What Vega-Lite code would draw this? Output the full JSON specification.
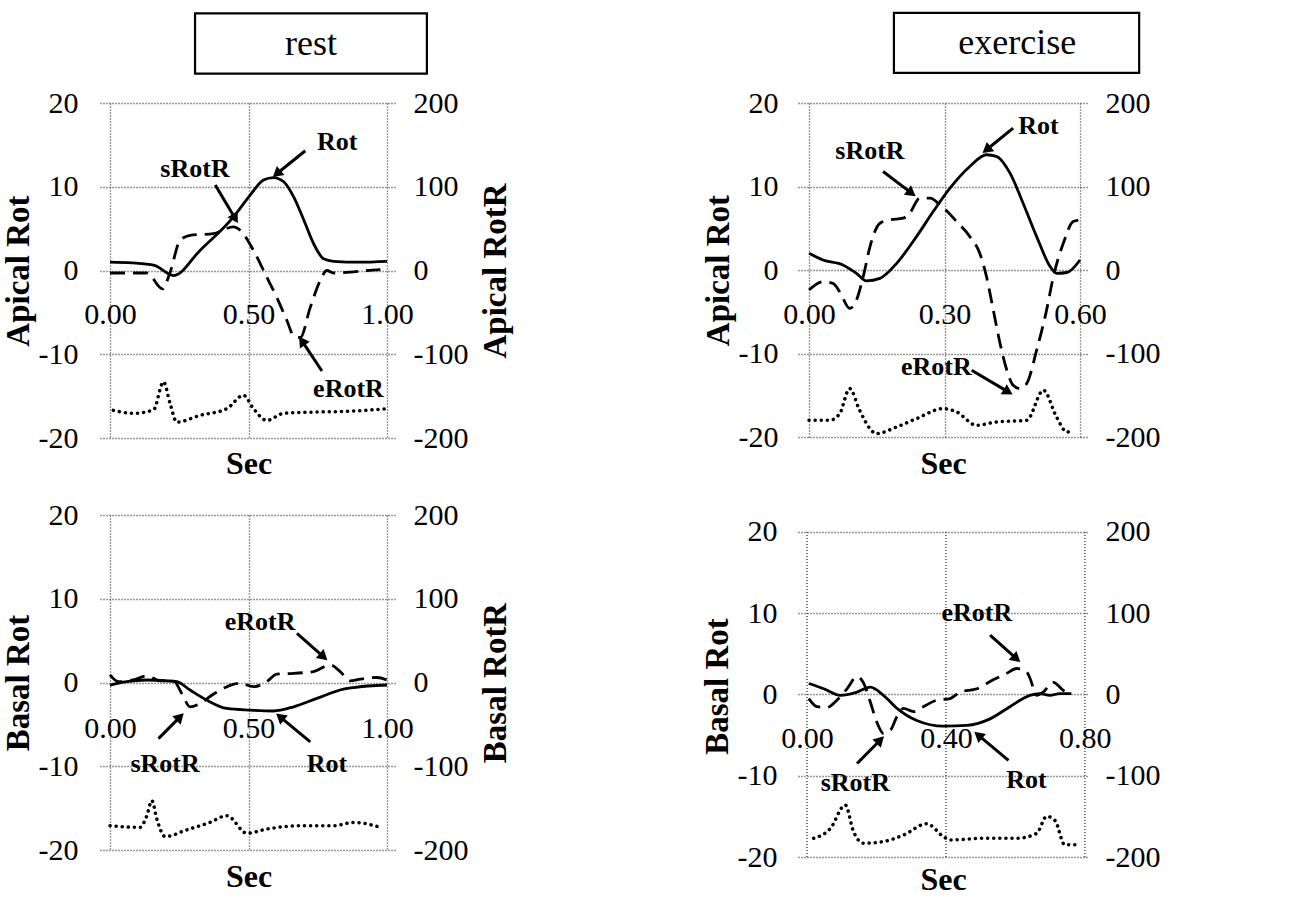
{
"$schema": "https://vega.github.io/schema/vega-lite/v6.json",
"autosize": {"type": "none"},
"padding": {"left": 100, "top": 103, "right": 1206, "bottom": 794},
"background": "white",
"datasets": {
"curves": [
{"p":"A","s":"Rot","t":0,"v":1.0},{"p":"A","s":"Rot","t":0.08,"v":0.9},{"p":"A","s":"Rot","t":0.16,"v":0.6},{"p":"A","s":"Rot","t":0.23,"v":-0.6},{"p":"A","s":"Rot","t":0.325,"v":2.4},{"p":"A","s":"Rot","t":0.446,"v":6.4},{"p":"A","s":"Rot","t":0.506,"v":9.0},{"p":"A","s":"Rot","t":0.554,"v":10.8},{"p":"A","s":"Rot","t":0.59,"v":11.1},{"p":"A","s":"Rot","t":0.627,"v":10.6},{"p":"A","s":"Rot","t":0.663,"v":8.8},{"p":"A","s":"Rot","t":0.70,"v":6.0},{"p":"A","s":"Rot","t":0.735,"v":3.2},{"p":"A","s":"Rot","t":0.771,"v":1.4},{"p":"A","s":"Rot","t":0.807,"v":1.1},{"p":"A","s":"Rot","t":0.9,"v":1.0},{"p":"A","s":"Rot","t":1.0,"v":1.1},
{"p":"A","s":"RotR","t":0,"v":-3},{"p":"A","s":"RotR","t":0.133,"v":-3},{"p":"A","s":"RotR","t":0.19,"v":-22},{"p":"A","s":"RotR","t":0.217,"v":-2},{"p":"A","s":"RotR","t":0.253,"v":36},{"p":"A","s":"RotR","t":0.289,"v":42},{"p":"A","s":"RotR","t":0.373,"v":44},{"p":"A","s":"RotR","t":0.446,"v":52},{"p":"A","s":"RotR","t":0.47,"v":48},{"p":"A","s":"RotR","t":0.518,"v":24},{"p":"A","s":"RotR","t":0.566,"v":-8},{"p":"A","s":"RotR","t":0.602,"v":-32},{"p":"A","s":"RotR","t":0.639,"v":-60},{"p":"A","s":"RotR","t":0.663,"v":-78},{"p":"A","s":"RotR","t":0.687,"v":-80},{"p":"A","s":"RotR","t":0.723,"v":-44},{"p":"A","s":"RotR","t":0.759,"v":-12},{"p":"A","s":"RotR","t":0.783,"v":0},{"p":"A","s":"RotR","t":0.807,"v":-3},{"p":"A","s":"RotR","t":0.867,"v":-2},{"p":"A","s":"RotR","t":0.928,"v":0},{"p":"A","s":"RotR","t":0.976,"v":1},
{"p":"A","s":"ECG","t":0.012,"v":-16.7},{"p":"A","s":"ECG","t":0.084,"v":-17.05},{"p":"A","s":"ECG","t":0.157,"v":-16.65},{"p":"A","s":"ECG","t":0.193,"v":-13.3},{"p":"A","s":"ECG","t":0.217,"v":-15.9},{"p":"A","s":"ECG","t":0.241,"v":-18.1},{"p":"A","s":"ECG","t":0.325,"v":-17.3},{"p":"A","s":"ECG","t":0.422,"v":-16.5},{"p":"A","s":"ECG","t":0.482,"v":-14.9},{"p":"A","s":"ECG","t":0.518,"v":-16.5},{"p":"A","s":"ECG","t":0.566,"v":-17.9},{"p":"A","s":"ECG","t":0.627,"v":-17.05},{"p":"A","s":"ECG","t":0.747,"v":-16.9},{"p":"A","s":"ECG","t":0.867,"v":-16.8},{"p":"A","s":"ECG","t":1.0,"v":-16.5},
{"p":"B","s":"Rot","t":0,"v":2.0},{"p":"B","s":"Rot","t":0.031,"v":1.2},{"p":"B","s":"Rot","t":0.075,"v":0.6},{"p":"B","s":"Rot","t":0.105,"v":-0.4},{"p":"B","s":"Rot","t":0.127,"v":-1.3},{"p":"B","s":"Rot","t":0.157,"v":-1.0},{"p":"B","s":"Rot","t":0.194,"v":0.8},{"p":"B","s":"Rot","t":0.238,"v":4.0},{"p":"B","s":"Rot","t":0.275,"v":7.0},{"p":"B","s":"Rot","t":0.312,"v":9.8},{"p":"B","s":"Rot","t":0.356,"v":12.4},{"p":"B","s":"Rot","t":0.393,"v":13.8},{"p":"B","s":"Rot","t":0.415,"v":13.6},{"p":"B","s":"Rot","t":0.445,"v":11.6},{"p":"B","s":"Rot","t":0.474,"v":8.0},{"p":"B","s":"Rot","t":0.504,"v":4.0},{"p":"B","s":"Rot","t":0.534,"v":0.4},{"p":"B","s":"Rot","t":0.548,"v":-0.4},{"p":"B","s":"Rot","t":0.571,"v":-0.3},{"p":"B","s":"Rot","t":0.6,"v":1.2},
{"p":"B","s":"RotR","t":0,"v":-24},{"p":"B","s":"RotR","t":0.031,"v":-14},{"p":"B","s":"RotR","t":0.053,"v":-16},{"p":"B","s":"RotR","t":0.068,"v":-26},{"p":"B","s":"RotR","t":0.09,"v":-46},{"p":"B","s":"RotR","t":0.105,"v":-36},{"p":"B","s":"RotR","t":0.12,"v":-8},{"p":"B","s":"RotR","t":0.135,"v":28},{"p":"B","s":"RotR","t":0.157,"v":56},{"p":"B","s":"RotR","t":0.179,"v":60},{"p":"B","s":"RotR","t":0.208,"v":62},{"p":"B","s":"RotR","t":0.223,"v":68},{"p":"B","s":"RotR","t":0.245,"v":86},{"p":"B","s":"RotR","t":0.268,"v":86},{"p":"B","s":"RotR","t":0.29,"v":78},{"p":"B","s":"RotR","t":0.327,"v":58},{"p":"B","s":"RotR","t":0.356,"v":40},{"p":"B","s":"RotR","t":0.378,"v":20},{"p":"B","s":"RotR","t":0.393,"v":-8},{"p":"B","s":"RotR","t":0.408,"v":-48},{"p":"B","s":"RotR","t":0.423,"v":-88},{"p":"B","s":"RotR","t":0.438,"v":-120},{"p":"B","s":"RotR","t":0.452,"v":-138},{"p":"B","s":"RotR","t":0.467,"v":-142},{"p":"B","s":"RotR","t":0.482,"v":-136},{"p":"B","s":"RotR","t":0.504,"v":-96},{"p":"B","s":"RotR","t":0.526,"v":-48},{"p":"B","s":"RotR","t":0.541,"v":-8},{"p":"B","s":"RotR","t":0.563,"v":32},{"p":"B","s":"RotR","t":0.585,"v":58},{"p":"B","s":"RotR","t":0.6,"v":60},
{"p":"B","s":"ECG","t":0,"v":-18},{"p":"B","s":"ECG","t":0.046,"v":-18},{"p":"B","s":"ECG","t":0.068,"v":-17.2},{"p":"B","s":"ECG","t":0.09,"v":-14.2},{"p":"B","s":"ECG","t":0.112,"v":-16.8},{"p":"B","s":"ECG","t":0.135,"v":-19},{"p":"B","s":"ECG","t":0.149,"v":-19.6},{"p":"B","s":"ECG","t":0.194,"v":-18.8},{"p":"B","s":"ECG","t":0.238,"v":-17.8},{"p":"B","s":"ECG","t":0.297,"v":-16.6},{"p":"B","s":"ECG","t":0.327,"v":-17},{"p":"B","s":"ECG","t":0.371,"v":-18.6},{"p":"B","s":"ECG","t":0.415,"v":-18.2},{"p":"B","s":"ECG","t":0.482,"v":-18},{"p":"B","s":"ECG","t":0.519,"v":-14.4},{"p":"B","s":"ECG","t":0.548,"v":-17.6},{"p":"B","s":"ECG","t":0.571,"v":-19.4},{"p":"B","s":"ECG","t":0.585,"v":-19.2},
{"p":"C","s":"Rot","t":0,"v":-0.3},{"p":"C","s":"Rot","t":0.06,"v":0.1},{"p":"C","s":"Rot","t":0.133,"v":0.3},{"p":"C","s":"Rot","t":0.205,"v":0.2},{"p":"C","s":"Rot","t":0.241,"v":0.1},{"p":"C","s":"Rot","t":0.289,"v":-0.9},{"p":"C","s":"Rot","t":0.349,"v":-2.1},{"p":"C","s":"Rot","t":0.422,"v":-3.1},{"p":"C","s":"Rot","t":0.506,"v":-3.3},{"p":"C","s":"Rot","t":0.59,"v":-3.4},{"p":"C","s":"Rot","t":0.663,"v":-2.9},{"p":"C","s":"Rot","t":0.747,"v":-1.9},{"p":"C","s":"Rot","t":0.843,"v":-0.8},{"p":"C","s":"Rot","t":0.88,"v":-0.6},{"p":"C","s":"Rot","t":1.0,"v":-0.3},
{"p":"C","s":"RotR","t":0,"v":9},{"p":"C","s":"RotR","t":0.03,"v":1},{"p":"C","s":"RotR","t":0.084,"v":3},{"p":"C","s":"RotR","t":0.133,"v":8},{"p":"C","s":"RotR","t":0.18,"v":2},{"p":"C","s":"RotR","t":0.229,"v":2},{"p":"C","s":"RotR","t":0.259,"v":-13},{"p":"C","s":"RotR","t":0.289,"v":-29},{"p":"C","s":"RotR","t":0.325,"v":-25},{"p":"C","s":"RotR","t":0.373,"v":-14},{"p":"C","s":"RotR","t":0.422,"v":-5},{"p":"C","s":"RotR","t":0.47,"v":-1},{"p":"C","s":"RotR","t":0.518,"v":-5},{"p":"C","s":"RotR","t":0.566,"v":1},{"p":"C","s":"RotR","t":0.602,"v":10},{"p":"C","s":"RotR","t":0.663,"v":11},{"p":"C","s":"RotR","t":0.735,"v":13},{"p":"C","s":"RotR","t":0.795,"v":21},{"p":"C","s":"RotR","t":0.831,"v":13},{"p":"C","s":"RotR","t":0.867,"v":2},{"p":"C","s":"RotR","t":0.904,"v":4},{"p":"C","s":"RotR","t":0.964,"v":6},{"p":"C","s":"RotR","t":1.0,"v":3},
{"p":"C","s":"ECG","t":0,"v":-17.1},{"p":"C","s":"ECG","t":0.108,"v":-17.3},{"p":"C","s":"ECG","t":0.133,"v":-15.9},{"p":"C","s":"ECG","t":0.151,"v":-14.1},{"p":"C","s":"ECG","t":0.169,"v":-16.3},{"p":"C","s":"ECG","t":0.199,"v":-18.4},{"p":"C","s":"ECG","t":0.277,"v":-17.6},{"p":"C","s":"ECG","t":0.361,"v":-16.7},{"p":"C","s":"ECG","t":0.422,"v":-15.9},{"p":"C","s":"ECG","t":0.494,"v":-18.0},{"p":"C","s":"ECG","t":0.566,"v":-17.5},{"p":"C","s":"ECG","t":0.687,"v":-17.1},{"p":"C","s":"ECG","t":0.807,"v":-17.1},{"p":"C","s":"ECG","t":0.88,"v":-16.7},{"p":"C","s":"ECG","t":0.976,"v":-17.3},
{"p":"D","s":"Rot","t":0.005,"v":1.35},{"p":"D","s":"Rot","t":0.048,"v":0.7},{"p":"D","s":"Rot","t":0.096,"v":-0.1},{"p":"D","s":"Rot","t":0.144,"v":0.3},{"p":"D","s":"Rot","t":0.182,"v":0.9},{"p":"D","s":"Rot","t":0.22,"v":-0.1},{"p":"D","s":"Rot","t":0.259,"v":-1.7},{"p":"D","s":"Rot","t":0.316,"v":-3.2},{"p":"D","s":"Rot","t":0.393,"v":-3.9},{"p":"D","s":"Rot","t":0.46,"v":-3.8},{"p":"D","s":"Rot","t":0.527,"v":-3.0},{"p":"D","s":"Rot","t":0.584,"v":-1.5},{"p":"D","s":"Rot","t":0.642,"v":-0.1},{"p":"D","s":"Rot","t":0.67,"v":0.1},{"p":"D","s":"Rot","t":0.699,"v":-0.1},{"p":"D","s":"Rot","t":0.728,"v":0.1},{"p":"D","s":"Rot","t":0.761,"v":0.1},
{"p":"D","s":"RotR","t":0.005,"v":-5},{"p":"D","s":"RotR","t":0.029,"v":-15},{"p":"D","s":"RotR","t":0.057,"v":-16},{"p":"D","s":"RotR","t":0.086,"v":-7},{"p":"D","s":"RotR","t":0.115,"v":7},{"p":"D","s":"RotR","t":0.144,"v":22},{"p":"D","s":"RotR","t":0.163,"v":14},{"p":"D","s":"RotR","t":0.182,"v":-9},{"p":"D","s":"RotR","t":0.201,"v":-34},{"p":"D","s":"RotR","t":0.22,"v":-48},{"p":"D","s":"RotR","t":0.24,"v":-44},{"p":"D","s":"RotR","t":0.259,"v":-27},{"p":"D","s":"RotR","t":0.278,"v":-17},{"p":"D","s":"RotR","t":0.307,"v":-21},{"p":"D","s":"RotR","t":0.335,"v":-15},{"p":"D","s":"RotR","t":0.374,"v":-7},{"p":"D","s":"RotR","t":0.412,"v":-5},{"p":"D","s":"RotR","t":0.441,"v":3},{"p":"D","s":"RotR","t":0.489,"v":7},{"p":"D","s":"RotR","t":0.536,"v":18},{"p":"D","s":"RotR","t":0.575,"v":26},{"p":"D","s":"RotR","t":0.603,"v":32},{"p":"D","s":"RotR","t":0.632,"v":28},{"p":"D","s":"RotR","t":0.642,"v":20},{"p":"D","s":"RotR","t":0.661,"v":-1},{"p":"D","s":"RotR","t":0.68,"v":3},{"p":"D","s":"RotR","t":0.709,"v":15},{"p":"D","s":"RotR","t":0.738,"v":5},{"p":"D","s":"RotR","t":0.761,"v":0},
{"p":"D","s":"ECG","t":0.019,"v":-17.7},{"p":"D","s":"ECG","t":0.067,"v":-16.5},{"p":"D","s":"ECG","t":0.11,"v":-13.6},{"p":"D","s":"ECG","t":0.134,"v":-16.9},{"p":"D","s":"ECG","t":0.163,"v":-18.3},{"p":"D","s":"ECG","t":0.22,"v":-18.1},{"p":"D","s":"ECG","t":0.278,"v":-17.3},{"p":"D","s":"ECG","t":0.345,"v":-15.9},{"p":"D","s":"ECG","t":0.393,"v":-17.5},{"p":"D","s":"ECG","t":0.412,"v":-17.9},{"p":"D","s":"ECG","t":0.508,"v":-17.7},{"p":"D","s":"ECG","t":0.603,"v":-17.7},{"p":"D","s":"ECG","t":0.661,"v":-17.1},{"p":"D","s":"ECG","t":0.69,"v":-15.0},{"p":"D","s":"ECG","t":0.714,"v":-15.5},{"p":"D","s":"ECG","t":0.742,"v":-18.5},{"p":"D","s":"ECG","t":0.785,"v":-18.5}
],
"ann": [
{"p":"A","label":"Rot","t":0.82,"v":15.3},{"p":"A","label":"sRotR","t":0.307,"v":12.15},{"p":"A","label":"eRotR","t":0.861,"v":-14.1},
{"p":"B","label":"Rot","t":0.508,"v":17.2},{"p":"B","label":"sRotR","t":0.135,"v":14.2},{"p":"B","label":"eRotR","t":0.282,"v":-11.6},
{"p":"C","label":"eRotR","t":0.542,"v":7.25},{"p":"C","label":"sRotR","t":0.199,"v":-9.7},{"p":"C","label":"Rot","t":0.783,"v":-9.7},
{"p":"D","label":"eRotR","t":0.489,"v":10.0},{"p":"D","label":"sRotR","t":0.139,"v":-10.9},{"p":"D","label":"Rot","t":0.632,"v":-10.5}
],
"arrows": [
{"p":"A","t":0.602,"v":11.55,"t2":0.705,"v2":14.3,"ang":230},{"p":"A","t":0.452,"v":6.2,"t2":0.38,"v2":10.2,"ang":149},{"p":"A","t":0.693,"v":-8.4,"t2":0.765,"v2":-12,"ang":326},
{"p":"B","t":0.393,"v":14.4,"t2":0.452,"v2":17,"ang":231},{"p":"B","t":0.227,"v":9.2,"t2":0.164,"v2":11.8,"ang":127},{"p":"B","t":0.441,"v":-14.6,"t2":0.36,"v2":-12,"ang":121},
{"p":"C","t":0.771,"v":3.07,"t2":0.675,"v2":5.86,"ang":131},{"p":"C","t":0.253,"v":-4.1,"t2":0.175,"v2":-6.7,"ang":45},{"p":"C","t":0.614,"v":-4.1,"t2":0.723,"v2":-7.1,"ang":310},
{"p":"D","t":0.603,"v":4.4,"t2":0.527,"v2":7.3,"ang":131},{"p":"D","t":0.211,"v":-5.6,"t2":0.144,"v2":-8.5,"ang":45},{"p":"D","t":0.493,"v":-5.0,"t2":0.58,"v2":-8.1,"ang":310}
],
"boxes": [
{"p":"A","t":0.307,"v":23.5,"t2":1.144,"v2":30.7},
{"p":"B","t":0.188,"v":23.6,"t2":0.731,"v2":30.8}
],
"titles": [
{"p":"A","label":"rest","t":0.726,"v":27.1},
{"p":"B","label":"exercise","t":0.461,"v":27.2}
],
"vgrid": [
{"p":"D","t":0,"v":-20,"t2":0,"v2":20},
{"p":"D","t":0.4,"v":-20,"t2":0.4,"v2":20},
{"p":"D","t":0.8,"v":-20,"t2":0.8,"v2":20}
]
},
"columns": 2,
"bounds": "flush",
"align": "each",
"spacing": {"row": 77, "column": 401},
"concat": [
{
"width": 297, "height": 335,
"layer": [
{
"encoding": {
"x": {"field":"t","type":"quantitative","scale":{"domain":[-0.0361,1.0361],"nice":false,"zero":false},"axis":{"orient":"bottom","values":[0,0.5,1],"grid":true,"labels":false,"title":"Sec","titleFontSize":32,"titlePadding":10}},
"y": {"field":"v","type":"quantitative","scale":{"domain":[-20,20],"nice":false,"zero":false},"axis":{"values":[-20,-10,0,10,20],"grid":true,"labelPadding":22,"title":"Apical Rot","titlePadding":3}}
},
"layer": [
{"data":{"name":"curves"},"transform":[{"filter":"datum.p==='A' && datum.s==='Rot'"}],"mark":{"type":"line","interpolate":"monotone","color":"black","strokeWidth":2.8}},
{"data":{"name":"curves"},"transform":[{"filter":"datum.p==='A' && datum.s==='ECG'"}],"mark":{"type":"line","interpolate":"monotone","color":"black","strokeWidth":3.5,"strokeDash":[0.1,6],"strokeCap":"round"}},
{"data":{"name":"arrows"},"transform":[{"filter":"datum.p==='A'"}],"mark":{"type":"rule","color":"black","strokeWidth":3},"encoding":{"x2":{"field":"t2"},"y2":{"field":"v2"}}},
{"data":{"name":"arrows"},"transform":[{"filter":"datum.p==='A'"}],"mark":{"type":"point","shape":"triangle-up","filled":true,"color":"black","opacity":1,"size":140},"encoding":{"angle":{"field":"ang","type":"quantitative","scale":null}}},
{"data":{"name":"ann"},"transform":[{"filter":"datum.p==='A'"}],"mark":{"type":"text","fontSize":26,"fontWeight":"bold","color":"black"},"encoding":{"text":{"field":"label"}}},
{"data":{"name":"boxes"},"transform":[{"filter":"datum.p==='A'"}],"mark":{"type":"rect","fill":"white","stroke":"black","strokeWidth":2.2},"encoding":{"x2":{"field":"t2"},"y2":{"field":"v2"}}},
{"data":{"name":"titles"},"transform":[{"filter":"datum.p==='A'"}],"mark":{"type":"text","fontSize":36,"color":"black"},"encoding":{"text":{"field":"label"}}}
]
},
{
"data":{"name":"curves"},"transform":[{"filter":"datum.p==='A' && datum.s==='RotR'"}],
"mark":{"type":"line","interpolate":"monotone","color":"black","strokeWidth":2.8,"strokeDash":[15,8]},
"encoding": {
"x": {"field":"t","type":"quantitative","axis":{"orient":"bottom","values":[0,0.5,1],"grid":false,"format":".2f","labelPadding":29,"offset":-167.5,"title":null}},
"y": {"field":"v","type":"quantitative","scale":{"domain":[-200,200],"nice":false,"zero":false},"axis":{"orient":"right","values":[-200,-100,0,100,200],"grid":false,"labelPadding":16,"title":"Apical RotR","titleAngle":270,"titleBaseline":"top","titlePadding":12}}
}
}
],
"resolve": {"scale":{"y":"independent"},"axis":{"x":"independent"}}
},
{
"width": 290, "height": 334,
"layer": [
{
"encoding": {
"x": {"field":"t","type":"quantitative","scale":{"domain":[-0.0244,0.6177],"nice":false,"zero":false},"axis":{"orient":"bottom","values":[0,0.3,0.6],"grid":true,"labels":false,"title":"Sec","titleFontSize":32,"titlePadding":11}},
"y": {"field":"v","type":"quantitative","scale":{"domain":[-20,20],"nice":false,"zero":false},"axis":{"values":[-20,-10,0,10,20],"grid":true,"labelPadding":20,"title":"Apical Rot","titlePadding":3}}
},
"layer": [
{"data":{"name":"curves"},"transform":[{"filter":"datum.p==='B' && datum.s==='Rot'"}],"mark":{"type":"line","interpolate":"monotone","color":"black","strokeWidth":2.8}},
{"data":{"name":"curves"},"transform":[{"filter":"datum.p==='B' && datum.s==='ECG'"}],"mark":{"type":"line","interpolate":"monotone","color":"black","strokeWidth":3.5,"strokeDash":[0.1,6],"strokeCap":"round"}},
{"data":{"name":"arrows"},"transform":[{"filter":"datum.p==='B'"}],"mark":{"type":"rule","color":"black","strokeWidth":3},"encoding":{"x2":{"field":"t2"},"y2":{"field":"v2"}}},
{"data":{"name":"arrows"},"transform":[{"filter":"datum.p==='B'"}],"mark":{"type":"point","shape":"triangle-up","filled":true,"color":"black","opacity":1,"size":140},"encoding":{"angle":{"field":"ang","type":"quantitative","scale":null}}},
{"data":{"name":"ann"},"transform":[{"filter":"datum.p==='B'"}],"mark":{"type":"text","fontSize":26,"fontWeight":"bold","color":"black"},"encoding":{"text":{"field":"label"}}},
{"data":{"name":"boxes"},"transform":[{"filter":"datum.p==='B'"}],"mark":{"type":"rect","fill":"white","stroke":"black","strokeWidth":2.2},"encoding":{"x2":{"field":"t2"},"y2":{"field":"v2"}}},
{"data":{"name":"titles"},"transform":[{"filter":"datum.p==='B'"}],"mark":{"type":"text","fontSize":36,"color":"black"},"encoding":{"text":{"field":"label"}}}
]
},
{
"data":{"name":"curves"},"transform":[{"filter":"datum.p==='B' && datum.s==='RotR'"}],
"mark":{"type":"line","interpolate":"monotone","color":"black","strokeWidth":2.8,"strokeDash":[15,8]},
"encoding": {
"x": {"field":"t","type":"quantitative","axis":{"orient":"bottom","values":[0,0.3,0.6],"grid":false,"format":".2f","labelPadding":29,"offset":-167,"title":null}},
"y": {"field":"v","type":"quantitative","scale":{"domain":[-200,200],"nice":false,"zero":false},"axis":{"orient":"right","values":[-200,-100,0,100,200],"grid":false,"labelPadding":17,"title":null}}
}
}
],
"resolve": {"scale":{"y":"independent"},"axis":{"x":"independent"}}
},
{
"width": 297, "height": 335,
"layer": [
{
"encoding": {
"x": {"field":"t","type":"quantitative","scale":{"domain":[-0.0361,1.0361],"nice":false,"zero":false},"axis":{"orient":"bottom","values":[0,0.5,1],"grid":true,"labels":false,"title":"Sec","titleFontSize":32,"titlePadding":11}},
"y": {"field":"v","type":"quantitative","scale":{"domain":[-20,20],"nice":false,"zero":false},"axis":{"values":[-20,-10,0,10,20],"grid":true,"labelPadding":22,"title":"Basal Rot","titlePadding":3}}
},
"layer": [
{"data":{"name":"curves"},"transform":[{"filter":"datum.p==='C' && datum.s==='Rot'"}],"mark":{"type":"line","interpolate":"monotone","color":"black","strokeWidth":2.8}},
{"data":{"name":"curves"},"transform":[{"filter":"datum.p==='C' && datum.s==='ECG'"}],"mark":{"type":"line","interpolate":"monotone","color":"black","strokeWidth":3.5,"strokeDash":[0.1,6],"strokeCap":"round"}},
{"data":{"name":"arrows"},"transform":[{"filter":"datum.p==='C'"}],"mark":{"type":"rule","color":"black","strokeWidth":3},"encoding":{"x2":{"field":"t2"},"y2":{"field":"v2"}}},
{"data":{"name":"arrows"},"transform":[{"filter":"datum.p==='C'"}],"mark":{"type":"point","shape":"triangle-up","filled":true,"color":"black","opacity":1,"size":140},"encoding":{"angle":{"field":"ang","type":"quantitative","scale":null}}},
{"data":{"name":"ann"},"transform":[{"filter":"datum.p==='C'"}],"mark":{"type":"text","fontSize":26,"fontWeight":"bold","color":"black"},"encoding":{"text":{"field":"label"}}}
]
},
{
"data":{"name":"curves"},"transform":[{"filter":"datum.p==='C' && datum.s==='RotR'"}],
"mark":{"type":"line","interpolate":"monotone","color":"black","strokeWidth":2.8,"strokeDash":[15,8]},
"encoding": {
"x": {"field":"t","type":"quantitative","axis":{"orient":"bottom","values":[0,0.5,1],"grid":false,"format":".2f","labelPadding":31,"offset":-167.5,"title":null}},
"y": {"field":"v","type":"quantitative","scale":{"domain":[-200,200],"nice":false,"zero":false},"axis":{"orient":"right","values":[-200,-100,0,100,200],"grid":false,"labelPadding":16,"title":"Basal RotR","titleAngle":270,"titleBaseline":"top","titlePadding":12}}
}
}
],
"resolve": {"scale":{"y":"independent"},"axis":{"x":"independent"}}
},
{
"width": 290, "height": 342,
"layer": [
{
"encoding": {
"x": {"field":"t","type":"quantitative","scale":{"domain":[-0.026,0.809],"nice":false,"zero":false},"axis":{"orient":"bottom","values":[0,0.4,0.8],"grid":false,"labels":false,"title":"Sec","titleFontSize":32,"titlePadding":7}},
"y": {"field":"v","type":"quantitative","scale":{"domain":[-20,22.09],"nice":false,"zero":false},"axis":{"values":[-20,-10,0,10,20],"grid":true,"labelPadding":21,"title":"Basal Rot","titlePadding":3}}
},
"layer": [
{"data":{"name":"vgrid"},"transform":[{"filter":"datum.p==='D'"}],"mark":{"type":"rule","color":"#333333","strokeWidth":1.3,"strokeDash":[1,2]},"encoding":{"x2":{"field":"t2"},"y2":{"field":"v2"}}},
{"data":{"name":"curves"},"transform":[{"filter":"datum.p==='D' && datum.s==='Rot'"}],"mark":{"type":"line","interpolate":"monotone","color":"black","strokeWidth":2.8}},
{"data":{"name":"curves"},"transform":[{"filter":"datum.p==='D' && datum.s==='ECG'"}],"mark":{"type":"line","interpolate":"monotone","color":"black","strokeWidth":3.5,"strokeDash":[0.1,6],"strokeCap":"round"}},
{"data":{"name":"arrows"},"transform":[{"filter":"datum.p==='D'"}],"mark":{"type":"rule","color":"black","strokeWidth":3},"encoding":{"x2":{"field":"t2"},"y2":{"field":"v2"}}},
{"data":{"name":"arrows"},"transform":[{"filter":"datum.p==='D'"}],"mark":{"type":"point","shape":"triangle-up","filled":true,"color":"black","opacity":1,"size":140},"encoding":{"angle":{"field":"ang","type":"quantitative","scale":null}}},
{"data":{"name":"ann"},"transform":[{"filter":"datum.p==='D'"}],"mark":{"type":"text","fontSize":26,"fontWeight":"bold","color":"black"},"encoding":{"text":{"field":"label"}}}
]
},
{
"data":{"name":"curves"},"transform":[{"filter":"datum.p==='D' && datum.s==='RotR'"}],
"mark":{"type":"line","interpolate":"monotone","color":"black","strokeWidth":2.8,"strokeDash":[15,8]},
"encoding": {
"x": {"field":"t","type":"quantitative","axis":{"orient":"bottom","values":[0,0.4,0.8],"grid":false,"format":".2f","labelPadding":29,"offset":-162.5,"title":null}},
"y": {"field":"v","type":"quantitative","scale":{"domain":[-200,220.9],"nice":false,"zero":false},"axis":{"orient":"right","values":[-200,-100,0,100,200],"grid":false,"labelPadding":17,"title":null}}
}
}
],
"resolve": {"scale":{"y":"independent"},"axis":{"x":"independent"}}
}
],
"config": {
"view": {"stroke": null},
"font": "Liberation Serif",
"text": {"font": "Liberation Serif"},
"axis": {
"labelFont": "Liberation Serif", "labelFontSize": 30, "labelColor": "black", "labelFontWeight": "normal",
"titleFont": "Liberation Serif", "titleFontSize": 33, "titleFontWeight": "bold", "titleColor": "black",
"ticks": false, "tickSize": 0, "domain": false, "labelFlush": false, "labelOverlap": false,
"gridColor": "#333333", "gridDash": [1, 2], "gridWidth": 1.3, "gridOpacity": 1
},
"axisY": {"labelExpr": "datum.value < 0 ? '-' + abs(datum.value) : '' + datum.value"}
}
}
